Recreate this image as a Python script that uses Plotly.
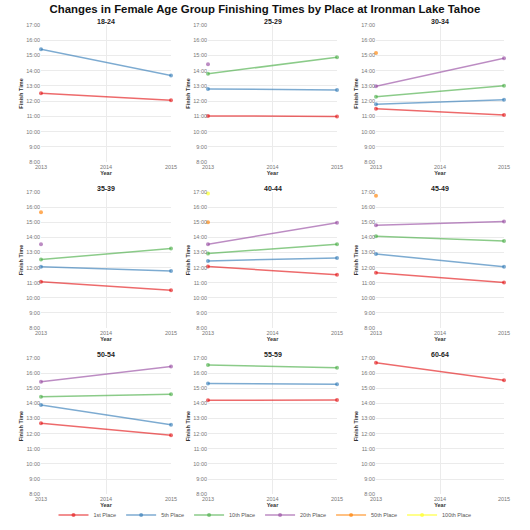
import plotly.graph_objects as go
from plotly.subplots import make_subplots

# age groups and places
age_groups = ["18-24", "25-29", "30-34", "35-39", "40-44", "45-49", "50-54", "55-59", "60-64"]
places = ["1st Place", "5th Place", "10th Place", "20th Place", "50th Place", "100th Place"]
years = [2013, 2015]

# finishing times in hours, one entry per age group
first_2013 = [12.52, 11.03, 11.49, 11.07, 12.07, 11.66, 12.69, 14.20, 16.69]
first_2015 = [12.06, 10.99, 11.08, 10.50, 11.53, 11.02, 11.90, 14.22, 15.53]
fifth_2013 = [15.40, 12.80, 11.80, 12.05, 12.44, 12.90, 13.89, 15.31, None]
fifth_2015 = [13.68, 12.72, 12.08, 11.77, 12.64, 12.05, 12.58, 15.27, None]
tenth_2013 = [None, 13.79, 12.28, 12.53, 12.93, 14.07, 14.44, 16.54, None]
tenth_2015 = [None, 14.88, 13.00, 13.26, 13.54, 13.76, 14.61, 16.36, None]
twentieth_2013 = [None, 14.42, 12.98, 13.54, 13.54, 14.79, 15.42, None, None]
twentieth_2015 = [None, None, 14.81, None, 14.96, 15.05, 16.43, None, None]
fiftieth_2013 = [None, None, 15.16, 15.66, 15.00, 16.74, None, None, None]
fiftieth_2015 = [None, None, None, None, None, None, None, None, None]
hundredth_2013 = [None, None, None, None, 16.89, None, None, None, None]
hundredth_2015 = [None, None, None, None, None, None, None, None, None]

y_ticks = list(range(8, 18))
y_labels = ["%d:00" % h for h in y_ticks]
x_ticks = [2013, 2014, 2015]

series = [
    (first_2013, first_2015),
    (fifth_2013, fifth_2015),
    (tenth_2013, tenth_2015),
    (twentieth_2013, twentieth_2015),
    (fiftieth_2013, fiftieth_2015),
    (hundredth_2013, hundredth_2015),
]
colors = ["rgba(228,26,28,0.65)", "rgba(55,126,184,0.65)", "rgba(77,175,74,0.65)",
          "rgba(152,78,163,0.65)", "rgba(255,127,0,0.65)", "rgba(255,255,51,0.75)"]

W = 530.0
col_px = [(41, 171), (208, 337), (376, 504)]
row_px = [(25, 163), (193, 330), (360, 497)]

fig = make_subplots(rows=3, cols=3)
seen = set()
for i, grp in enumerate(age_groups):
    r, c = i // 3 + 1, i % 3 + 1
    for p, (a, b) in enumerate(series):
        vals = [a[i], b[i]]
        if all(v is None for v in vals):
            continue
        show = places[p] not in seen
        seen.add(places[p])
        fig.add_trace(go.Scatter(x=years, y=vals, mode="lines+markers", name=places[p],
                                 legendgroup=places[p], showlegend=show, cliponaxis=False,
                                 line=dict(color=colors[p], width=1.5),
                                 marker=dict(color=colors[p], size=4)), row=r, col=c)

font_name = "Liberation Sans"
for i, grp in enumerate(age_groups):
    r, c = i // 3, i % 3
    x0, x1 = col_px[c]
    y0, y1 = row_px[r]
    n = i + 1
    xa = "xaxis" if n == 1 else "xaxis%d" % n
    ya = "yaxis" if n == 1 else "yaxis%d" % n
    fig.layout[xa].update(domain=[x0 / W, x1 / W])
    fig.layout[ya].update(domain=[1 - y1 / W, 1 - y0 / W])
    fig.add_annotation(text="<b>%s</b>" % grp, x=(x0 + x1) / 2 / W, y=1 - (y0 - 3) / W,
                       xref="paper", yref="paper", xanchor="center", yanchor="middle",
                       showarrow=False, font=dict(size=7, color="#222", family=font_name))

fig.update_xaxes(range=[2013, 2015], tickvals=x_ticks, ticktext=[str(t) for t in x_ticks],
                 showgrid=True, gridcolor="#ebebeb", gridwidth=1, zeroline=False,
                 tickfont=dict(size=5.5, color="#777"), ticks="", automargin=False,
                 title=dict(text="<b>Year</b>", font=dict(size=5.5, color="#333"), standoff=2))
fig.update_yaxes(range=[8, 17], tickvals=y_ticks, ticktext=y_labels,
                 showgrid=True, gridcolor="#ebebeb", gridwidth=1, zeroline=False,
                 tickfont=dict(size=5.5, color="#777"), ticks="", automargin=False,
                 title=dict(text="<b>Finish Time</b>", font=dict(size=5.5, color="#333"), standoff=2))

fig.update_layout(
    width=530, height=530,
    margin=dict(l=0, r=0, t=0, b=0),
    plot_bgcolor="white", paper_bgcolor="white",
    font=dict(family=font_name),
    title=dict(text="<b>Changes in Female Age Group Finishing Times by Place at Ironman Lake Tahoe</b>",
               x=0.5, xanchor="center", y=1 - 9 / W, yanchor="middle",
               font=dict(size=11.4, color="#111", family=font_name)),
    legend=dict(orientation="h", x=0.5, xanchor="center", y=1 - 518 / W, yanchor="middle",
                font=dict(size=5.5, color="#555"), itemwidth=30, tracegroupgap=0),
)

fig.write_html("out.html", config={"displayModeBar": False},
               post_script="document.body.style.margin='0';")
